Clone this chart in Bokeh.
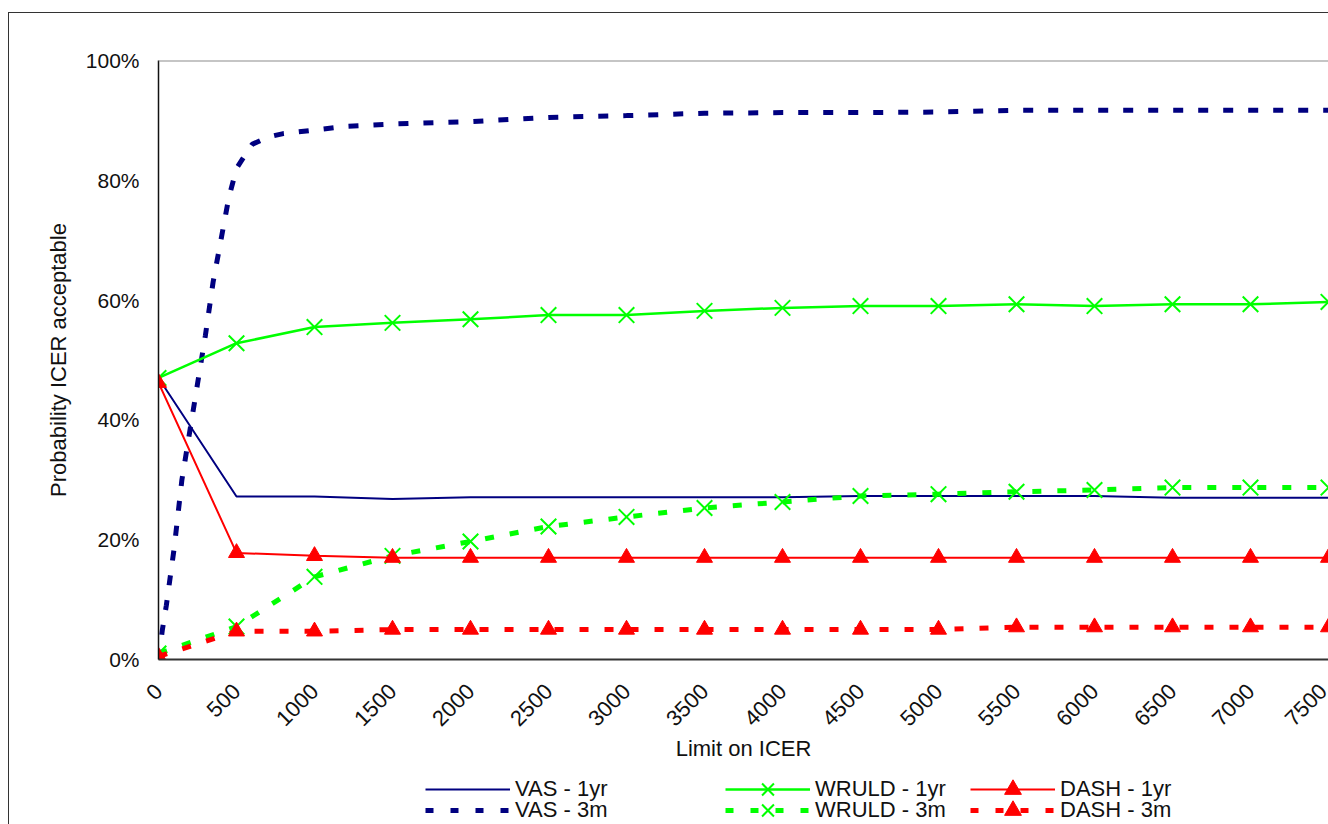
from math import pi
from bokeh.plotting import figure
from bokeh.layouts import column
from bokeh.models import (Range1d, FixedTicker, PrintfTickFormatter, Legend,
                          LegendItem, Span)
from bokeh.embed import file_html
from bokeh.resources import INLINE

# ---- data ----
icer_limits = [0, 500, 1000, 1500, 2000, 2500, 3000, 3500, 4000,
               4500, 5000, 5500, 6000, 6500, 7000, 7500]
x_tick_labels = [str(v) for v in icer_limits]

vas_1yr = [47.0, 27.2, 27.2, 26.8, 27.1, 27.1, 27.1, 27.1, 27.1,
           27.3, 27.3, 27.3, 27.3, 27.0, 27.0, 27.0]
wruld_1yr = [47.0, 52.8, 55.5, 56.2, 56.8, 57.5, 57.5, 58.2, 58.7,
             59.0, 59.0, 59.3, 59.0, 59.3, 59.3, 59.7]
dash_1yr = [46.2, 17.8, 17.3, 17.0, 17.0, 17.0, 17.0, 17.0, 17.0,
            17.0, 17.0, 17.0, 17.0, 17.0, 17.0, 17.0]
wruld_3m = [1.0, 5.5, 13.8, 17.3, 19.7, 22.2, 23.8, 25.3, 26.3,
            27.3, 27.6, 28.0, 28.3, 28.7, 28.7, 28.7]
dash_3m = [0.5, 4.7, 4.7, 5.0, 5.0, 5.0, 5.0, 5.0, 5.0,
           5.0, 5.0, 5.4, 5.4, 5.4, 5.4, 5.4]

vas_3m_x = [0, 25, 50, 100, 150, 200, 250, 300, 350, 400, 450, 500,
            600, 700, 800, 900, 1000, 1200, 1500, 2000, 2500, 3000,
            3500, 4000, 4500, 5000, 5500, 6000, 6500, 7000, 7500]
vas_3m = [0.0, 5.0, 9.0, 18.5, 30.0, 38.0, 46.0, 54.0, 63.0, 70.0, 77.0, 82.0,
          86.0, 87.2, 87.8, 88.1, 88.4, 89.0, 89.4, 89.8, 90.5, 90.8,
          91.2, 91.3, 91.3, 91.4, 91.7, 91.7, 91.7, 91.7, 91.7]

y_ticks = [0, 20, 40, 60, 80, 100]

series_names = ["VAS - 1yr", "VAS - 3m", "WRULD - 1yr", "WRULD - 3m",
                "DASH - 1yr", "DASH - 3m"]

NAVY = "#000080"
LIME = "#00FF00"
RED = "#FF0000"
FONT = "Liberation Sans"
DASHED = "9 16"

# ---------------- main chart ----------------
p = figure(width=1319, height=750,
           x_range=Range1d(0, 7500), y_range=Range1d(0, 100),
           output_backend="svg", toolbar_location=None,
           min_border_left=149, min_border_right=0,
           min_border_top=47, min_border_bottom=103)
p.outline_line_color = None
p.xgrid.visible = False
p.ygrid.visible = False
p.background_fill_color = "white"
p.border_fill_color = "white"

# top edge of plot area
p.add_layout(Span(location=100, dimension="width", line_color="#8c8c8c",
                  line_width=2))

p.line(icer_limits, vas_1yr, line_color=NAVY, line_width=2)
p.line(vas_3m_x, vas_3m, line_color=NAVY, line_width=5, line_dash="10 15")
p.line(icer_limits, wruld_1yr, line_color=LIME, line_width=2.5)
p.scatter(icer_limits, wruld_1yr, marker="x", size=22, line_color=LIME,
          line_width=2)
p.line(icer_limits, wruld_3m, line_color=LIME, line_width=5, line_dash=DASHED)
p.scatter(icer_limits, wruld_3m, marker="x", size=22, line_color=LIME,
          line_width=2)
p.line(icer_limits, dash_1yr, line_color=RED, line_width=2)
p.scatter(icer_limits, dash_1yr, marker="triangle", size=16, fill_color=RED,
          line_color=RED)
p.line(icer_limits, dash_3m, line_color=RED, line_width=5, line_dash=DASHED)
p.scatter(icer_limits, dash_3m, marker="triangle", size=16, fill_color=RED,
          line_color=RED)

xa = p.xaxis[0]
xa.ticker = FixedTicker(ticks=icer_limits)
xa.major_label_overrides = {v: s for v, s in zip(icer_limits, x_tick_labels)}
xa.major_label_orientation = pi / 4
xa.major_label_text_font = FONT
xa.major_label_text_font_size = "22px"
xa.major_label_text_color = "#111111"
xa.major_label_standoff = 22
xa.axis_line_color = "#333333"
xa.axis_line_width = 2
xa.major_tick_line_color = None
xa.minor_tick_line_color = None
xa.axis_label = "Limit on ICER"
xa.axis_label_text_font = FONT
xa.axis_label_text_font_size = "22px"
xa.axis_label_text_font_style = "normal"
xa.axis_label_text_color = "#111111"
xa.axis_label_standoff = 0

ya = p.yaxis[0]
ya.ticker = FixedTicker(ticks=y_ticks)
ya.formatter = PrintfTickFormatter(format="%d%%")
ya.major_label_text_font = FONT
ya.major_label_text_font_size = "21px"
ya.major_label_text_color = "#111111"
ya.major_label_standoff = 13
ya.axis_line_color = "#111111"
ya.axis_line_width = 1.5
ya.major_tick_line_color = None
ya.minor_tick_line_color = None
ya.axis_label = "Probability ICER acceptable"
ya.axis_label_text_font = FONT
ya.axis_label_text_font_size = "22px"
ya.axis_label_text_font_style = "normal"
ya.axis_label_text_color = "#111111"
ya.axis_label_standoff = 12

# ---------------- legend strip under the chart ----------------
lg = figure(width=1319, height=61, x_range=Range1d(0, 1), y_range=Range1d(0, 1),
            output_backend="svg", toolbar_location=None, min_border=0)
lg.axis.visible = False
lg.grid.visible = False
lg.outline_line_color = None
lg.border_fill_color = "white"

styles = [
    dict(color=NAVY, width=2, dash="solid", marker=None),
    dict(color=NAVY, width=5, dash="8 17", marker=None),
    dict(color=LIME, width=2.5, dash="solid", marker="x"),
    dict(color=LIME, width=5, dash="8 17", marker="x"),
    dict(color=RED, width=2, dash="solid", marker="triangle"),
    dict(color=RED, width=5, dash="8 17", marker="triangle"),
]
NAN = [float("nan")]   # legend proxies: nothing is drawn in the strip itself
items = []
for name, st in zip(series_names, styles):
    rs = [lg.line(NAN, NAN, line_color=st["color"], line_width=st["width"],
                  line_dash=st["dash"])]
    if st["marker"] == "x":
        rs.append(lg.scatter(NAN, NAN, marker="x", size=20,
                             line_color=st["color"], line_width=2))
    elif st["marker"] == "triangle":
        rs.append(lg.scatter(NAN, NAN, marker="triangle", size=16,
                             fill_color=st["color"], line_color=st["color"]))
    items.append(LegendItem(label=name, renderers=rs))

# x offsets are measured from the chart's plot-area left edge (frames align)
col_x = [267, 567, 812]
row_y = [14, -7]
for i, item in enumerate(items):
    leg = Legend(items=[item], location=(col_x[i // 2], row_y[i % 2]),
                 padding=0, margin=0, spacing=0,
                 glyph_width=85, glyph_height=42, label_height=42,
                 label_standoff=5,
                 label_text_font=FONT, label_text_font_size="22px",
                 label_text_color="#111111",
                 border_line_color=None, background_fill_alpha=0)
    lg.add_layout(leg, "center")

page = column(p, lg, spacing=0)
page.styles = {"border-top": "1px solid #333333",
               "border-left": "1px solid #333333",
               "margin-top": "12px", "margin-left": "8px"}

open("out.html", "w").write(file_html(page, INLINE))
